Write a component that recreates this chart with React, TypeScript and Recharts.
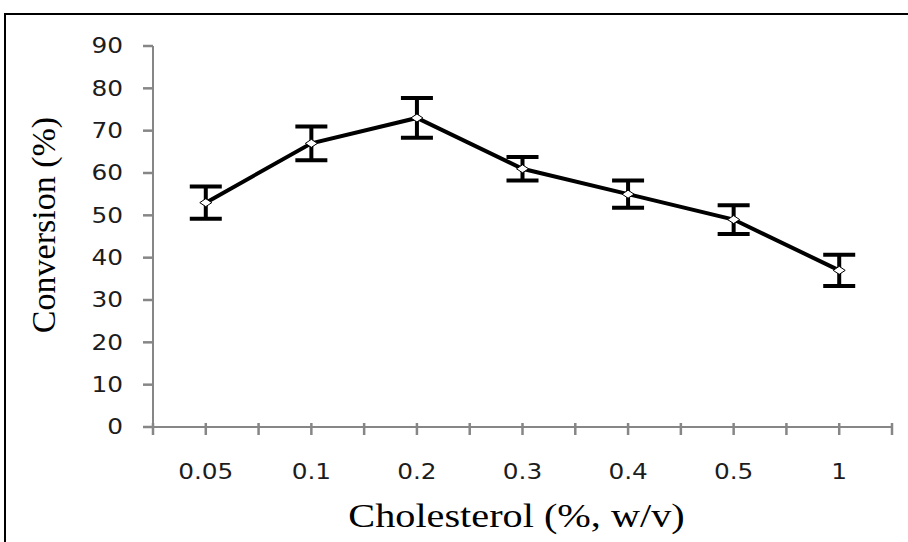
import React from 'react';
import { LineChart, Line, XAxis, YAxis, ErrorBar, Label } from 'recharts';

// Values
const categories = ['0.05', '0.1', '0.2', '0.3', '0.4', '0.5', '1'];
const conversion = [53, 67, 73, 61, 55, 49, 37];
const conversionErr = [3.8, 4, 4.7, 2.8, 3.2, 3.4, 3.7];
const yTicks = [0, 10, 20, 30, 40, 50, 60, 70, 80, 90];

// each category sits in the middle of its band on a 0..n numeric axis
const rows = categories.map((c, i) => ({
  pos: i + 0.5,
  label: c,
  value: conversion[i],
  err: conversionErr[i],
}));
const xTicks = Array.from({ length: categories.length * 2 + 1 }, (_, k) => k / 2);

const AXIS_COLOR = '#868686';
const TEXT_COLOR = '#1c1c1c';
const TICK_FONT = '"DejaVu Sans", Verdana, sans-serif';
const TITLE_FONT = '"Liberation Serif", "Times New Roman", serif';

const XTick = (props: any) => {
  const { x, y, payload } = props;
  const v = payload.value as number;
  const isCenter = Math.abs(v % 1 - 0.5) < 1e-6;
  return (
    <g>
      <line x1={x} x2={x} y1={y - 4} y2={y + 8} stroke={AXIS_COLOR} strokeWidth={2.5} />
      {isCenter && (
        <text
          transform={`translate(${x},${y + 45}) scale(1.18,1)`}
          textAnchor="middle"
          dominantBaseline="central"
          fontFamily={TICK_FONT}
          fontSize={21}
          fill={TEXT_COLOR}
        >
          {categories[Math.floor(v)]}
        </text>
      )}
    </g>
  );
};

const YTick = (props: any) => {
  const { x, y, payload } = props;
  return (
    <text
      transform={`translate(${x},${y}) scale(1.18,1)`}
      textAnchor="end"
      dominantBaseline="central"
      fontFamily={TICK_FONT}
      fontSize={21}
      fill={TEXT_COLOR}
    >
      {payload.value}
    </text>
  );
};

const Diamond = (props: any) => {
  const { cx, cy } = props;
  if (cx == null || cy == null) return null;
  return (
    <polygon
      points={`${cx - 6},${cy} ${cx},${cy - 4} ${cx + 6},${cy} ${cx},${cy + 4}`}
      fill="#fff"
      stroke="#000"
      strokeWidth={1}
    />
  );
};

const XTitle = (props: any) => {
  const { viewBox } = props;
  const cx = viewBox.x + viewBox.width / 2 - 6;
  return (
    <text
      transform={`translate(${cx},${viewBox.y + 100}) scale(1.22,1)`}
      textAnchor="middle"
      fontFamily={TITLE_FONT}
      fontSize={33}
      fill="#000"
    >
      Cholesterol (%, w/v)
    </text>
  );
};

const YTitle = () => (
  <text
    transform="translate(55,225) rotate(-90)"
    textAnchor="middle"
    fontFamily={TITLE_FONT}
    fontSize={34}
    fill="#000"
  >
    Conversion (%)
  </text>
);

export default function App() {
  return (
    <div style={{ position: 'absolute', left: 0, top: 0, width: 908, height: 542, background: '#fff' }}>
      {/* outer frame: only top and left edges are visible in the figure */}
      <div
        style={{
          position: 'absolute',
          left: 4,
          top: 13,
          right: 0,
          bottom: 0,
          borderTop: '2px solid #000',
          borderLeft: '2px solid #000',
        }}
      />
      <div style={{ position: 'absolute', left: 0, top: 0 }}>
        <LineChart width={908} height={542} data={rows} margin={{ top: 46, right: 16, bottom: 0, left: 0 }}>
          <XAxis
            type="number"
            dataKey="pos"
            domain={[0, categories.length]}
            ticks={xTicks}
            interval={0}
            height={115}
            tickSize={0}
            tickMargin={0}
            tickLine={false}
            axisLine={{ stroke: AXIS_COLOR, strokeWidth: 2 }}
            tick={<XTick />}
          >
            <Label content={<XTitle />} />
          </XAxis>
          <YAxis
            domain={[0, 90]}
            ticks={yTicks}
            interval={0}
            width={153}
            tickSize={10}
            tickMargin={20}
            tickLine={{ stroke: AXIS_COLOR, strokeWidth: 2.5 }}
            axisLine={{ stroke: AXIS_COLOR, strokeWidth: 2 }}
            tick={<YTick />}
          >
            <Label content={<YTitle />} />
          </YAxis>
          <Line
            type="linear"
            dataKey="value"
            stroke="#000"
            strokeWidth={4}
            dot={<Diamond />}
            activeDot={false}
            isAnimationActive={false}
          >
            <ErrorBar dataKey="err" direction="y" width={16} strokeWidth={4} stroke="#000" isAnimationActive={false} />
          </Line>
        </LineChart>
      </div>
    </div>
  );
}
